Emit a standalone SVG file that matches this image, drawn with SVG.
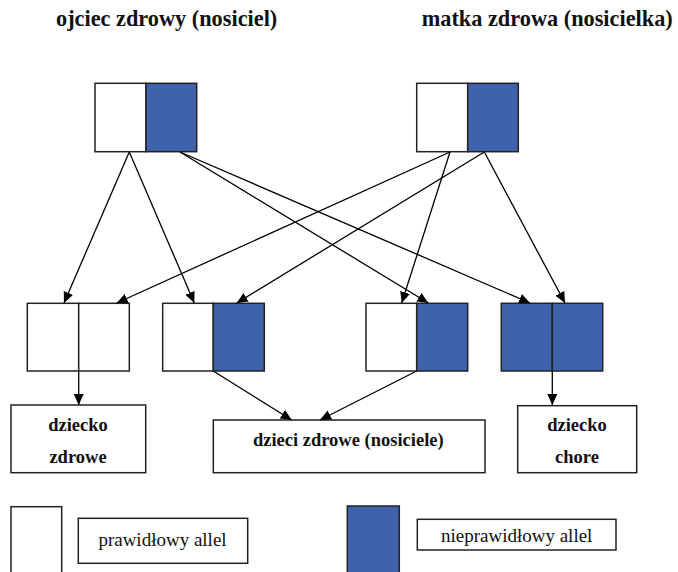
<svg xmlns="http://www.w3.org/2000/svg" width="678" height="572" viewBox="0 0 678 572">
<defs>
<marker id="ah" markerUnits="userSpaceOnUse" markerWidth="12" markerHeight="11" refX="11" refY="5" orient="auto">
<path d="M0,0 L11,5 L0,10 z" fill="#000"/>
</marker>
</defs>
<rect width="678" height="572" fill="#fff"/>
<g font-family="Liberation Serif" fill="#111">
<g id="title-father"><text x="56" y="26" font-weight="bold" font-size="22.3">ojciec zdrowy (nosiciel)</text></g>
<g id="title-mother"><text x="421.7" y="26" font-weight="bold" font-size="22.3">matka zdrowa (nosicielka)</text></g>
</g>
<g stroke="#222" stroke-width="1.5">
<g id="father"><rect fill="#fff" x="95" y="83.3" width="51" height="68.4"/><rect fill="#3F62AD" x="146" y="83.3" width="50.7" height="68.4"/></g>
<g id="mother"><rect fill="#fff" x="416.7" y="83.3" width="51" height="68.4"/><rect fill="#3F62AD" x="467.7" y="83.3" width="50.6" height="68.4"/></g>
<g id="child1"><rect fill="#fff" x="27.3" y="303.3" width="51.4" height="67.7"/><rect fill="#fff" x="78.7" y="303.3" width="50.6" height="67.7"/></g>
<g id="child2"><rect fill="#fff" x="162.7" y="303.3" width="50.6" height="67.7"/><rect fill="#3F62AD" x="213.3" y="303.3" width="51" height="67.7"/></g>
<g id="child3"><rect fill="#fff" x="366" y="303.3" width="50.7" height="67.7"/><rect fill="#3F62AD" x="416.7" y="303.3" width="51" height="67.7"/></g>
<g id="child4"><rect fill="#3F62AD" x="501.3" y="303.3" width="51" height="67.7"/><rect fill="#3F62AD" x="552.3" y="303.3" width="50.4" height="67.7"/></g>
</g>
<g font-family="Liberation Serif" font-weight="bold" font-size="18.5" text-anchor="middle">
<g id="result-healthy"><rect fill="#fff" stroke="#222" stroke-width="1.5" x="11" y="405" width="134.7" height="67.7"/><text fill="#111" x="78" y="430.7">dziecko</text><text fill="#111" x="78" y="463">zdrowe</text></g>
<g id="result-carriers"><rect fill="#fff" stroke="#222" stroke-width="1.5" x="213.3" y="420" width="271.7" height="52.7"/><text fill="#111" x="348.3" y="446">dzieci zdrowe (nosiciele)</text></g>
<g id="result-sick"><rect fill="#fff" stroke="#222" stroke-width="1.5" x="517.7" y="405.7" width="119" height="67"/><text fill="#111" x="577" y="430.7">dziecko</text><text fill="#111" x="577" y="462.7">chore</text></g>
</g>
<g font-family="Liberation Serif" font-size="19" text-anchor="middle">
<g id="legend-normal"><rect fill="#fff" stroke="#222" stroke-width="1.5" x="11" y="506.7" width="50.7" height="70"/><rect fill="#fff" stroke="#222" stroke-width="1.5" x="78.3" y="518.3" width="169.4" height="45"/><text fill="#111" x="162.5" y="546">prawidłowy allel</text></g>
<g id="legend-abnormal"><rect fill="#3F62AD" stroke="#222" stroke-width="1.5" x="347.3" y="506" width="52" height="70"/><rect fill="#fff" stroke="#222" stroke-width="1.5" x="417.3" y="519.3" width="198.7" height="30.7"/><text fill="#111" x="516.7" y="542">nieprawidłowy allel</text></g>
</g>
<g id="connectors" fill="none" stroke="#000" stroke-width="1.3" marker-end="url(#ah)">
<line x1="129.3" y1="152" x2="64" y2="303"/>
<line x1="129.3" y1="152" x2="194.3" y2="303"/>
<line x1="180" y1="152" x2="428.3" y2="303"/>
<line x1="180" y1="152" x2="530" y2="303"/>
<line x1="450" y1="152" x2="116.7" y2="303"/>
<line x1="450" y1="152" x2="401.7" y2="303"/>
<line x1="484.3" y1="152" x2="236.7" y2="303"/>
<line x1="484.3" y1="152" x2="565" y2="303"/>
<line x1="78.7" y1="371" x2="78.7" y2="405"/>
<line x1="213.3" y1="371" x2="291.7" y2="420"/>
<line x1="416.7" y1="371" x2="320" y2="420"/>
<line x1="552.3" y1="371" x2="552.3" y2="405"/>
</g>
</svg>
